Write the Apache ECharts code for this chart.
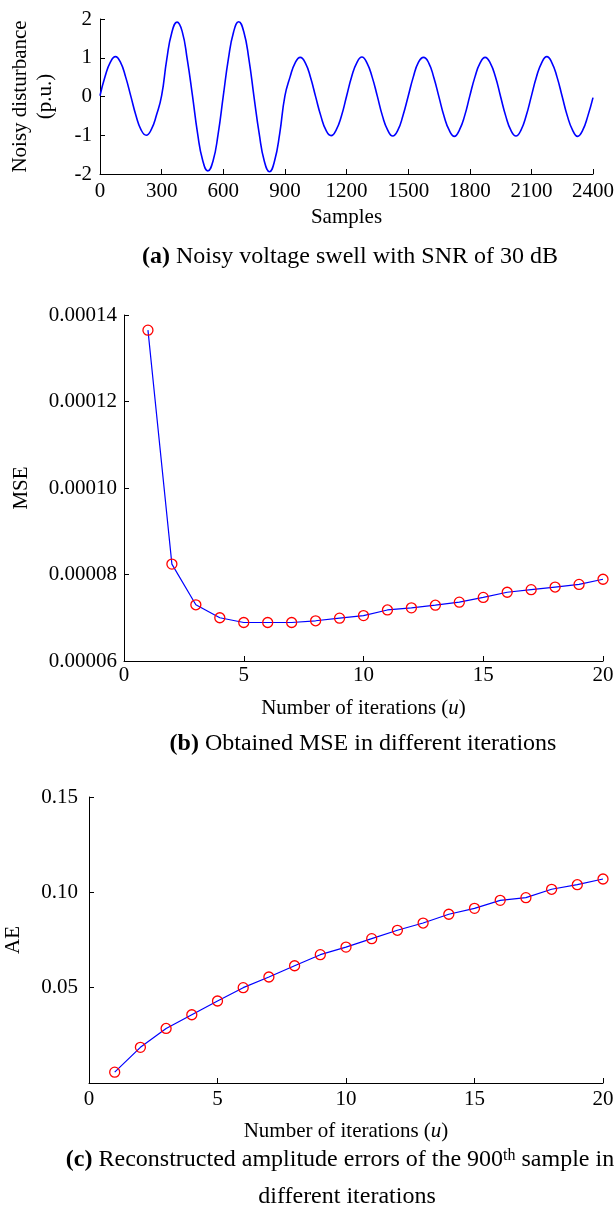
<!DOCTYPE html>
<html>
<head>
<meta charset="utf-8">
<script src="https://cdn.jsdelivr.net/npm/echarts@6/dist/echarts.min.js"></script>
<style>
html,body{margin:0;padding:0;background:#fff;}
#c{width:616px;height:1207px;}
</style>
</head>
<body>
<div id="c"></div>
<script>
// ---------- Data ----------
// (a) noisy voltage swell, values read every 25 samples
const sampleIndex = [];
for (let i = 0; i <= 96; i++) sampleIndex.push(i * 25);
const disturbance = [
  0.02, 0.52, 0.88, 1.03, 0.88, 0.50, 0.01, -0.49, -0.86, -1.00, -0.85, -0.48,
  0.02, 0.96, 1.66, 1.92, 1.68, 0.95, 0.03, -0.95, -1.65, -1.92, -1.67, -0.97,
  0.01, 0.97, 1.66, 1.93, 1.67, 0.96, -0.02, -0.96, -1.67, -1.94, -1.66, -0.95,
  0.01, 0.50, 0.87, 1.01, 0.86, 0.49, -0.01, -0.50, -0.87, -1.01, -0.86, -0.51,
  0.00, 0.51, 0.87, 1.02, 0.86, 0.50, 0.01, -0.50, -0.86, -1.02, -0.87, -0.49,
  0.00, 0.50, 0.88, 1.01, 0.87, 0.49, -0.01, -0.51, -0.87, -1.03, -0.86, -0.50,
  0.01, 0.50, 0.86, 1.01, 0.86, 0.51, 0.00, -0.50, -0.87, -1.02, -0.86, -0.49,
  0.01, 0.51, 0.87, 1.03, 0.87, 0.50, 0.00, -0.50, -0.86, -1.03, -0.87, -0.50,
  -0.03
];
const samplesTicks = [0, 300, 600, 900, 1200, 1500, 1800, 2100, 2400];

// (b) MSE per iteration
const iterations = [1,2,3,4,5,6,7,8,9,10,11,12,13,14,15,16,17,18,19,20];
const mse = [
  0.0001365, 0.0000824, 0.0000730, 0.0000700, 0.0000689, 0.0000689, 0.0000689,
  0.0000693, 0.0000699, 0.0000705, 0.0000718, 0.0000723, 0.0000729, 0.0000736,
  0.0000747, 0.0000759, 0.0000765, 0.0000771, 0.0000777, 0.0000789
];

// (c) amplitude error of 900th sample per iteration
const ae = [
  0.0057, 0.0187, 0.0286, 0.0358, 0.0430, 0.0500, 0.0556, 0.0615, 0.0673, 0.0713,
  0.0757, 0.0801, 0.0839, 0.0885, 0.0916, 0.0958, 0.0972, 0.1016, 0.1040, 0.1070
];

// ---------- Chart ----------
const FONT = '"Liberation Serif", "Times New Roman", serif';
const BLUE = '#0000ff';
const RED = '#ff0000';

function xAxisBase(gridIndex, min, max, interval, name, nameGap, labelMargin) {
  return {
    type: 'value', gridIndex, min, max, interval,
    name, nameLocation: 'middle', nameGap,
    nameTextStyle: { fontFamily: FONT, fontSize: 21, color: '#000',
      rich: { i: { fontFamily: FONT, fontSize: 21, fontStyle: 'italic', color: '#000' } } },
    axisLine: { show: true, onZero: false, lineStyle: { color: '#000', width: 1 } },
    axisTick: { show: true, inside: true, length: 5, lineStyle: { color: '#000' } },
    axisLabel: { fontFamily: FONT, fontSize: 21, color: '#000', margin: labelMargin, formatter: v => String(v) },
    splitLine: { show: false }
  };
}
function yAxisBase(gridIndex, min, max, interval, name, nameGap, labelMargin, fmt) {
  return {
    type: 'value', gridIndex, min, max, interval,
    name, nameLocation: 'middle', nameGap,
    nameTextStyle: { fontFamily: FONT, fontSize: 21, color: '#000', lineHeight: 25 },
    axisLine: { show: true, onZero: false, lineStyle: { color: '#000', width: 1 } },
    axisTick: { show: true, inside: true, length: 5, lineStyle: { color: '#000' } },
    axisLabel: { fontFamily: FONT, fontSize: 21, color: '#000', margin: labelMargin, formatter: fmt },
    splitLine: { show: false }
  };
}

const chart = echarts.init(document.getElementById('c'), null, { renderer: 'canvas' });

const capRich = {
  b: { fontFamily: FONT, fontSize: 24, fontWeight: 'bold', fill: '#000' },
  sup: { fontFamily: FONT, fontSize: 16, fill: '#000', verticalAlign: 'top' }
};

chart.setOption({
  animation: false,
  backgroundColor: '#fff',
  grid: [
    { left: 100, top: 19, width: 493, height: 155, outerBoundsMode: 'none', containLabel: false },
    { left: 124, top: 315, width: 479, height: 346, outerBoundsMode: 'none', containLabel: false },
    { left: 89, top: 797, width: 514, height: 286, outerBoundsMode: 'none', containLabel: false }
  ],
  xAxis: [
    xAxisBase(0, samplesTicks[0], samplesTicks[samplesTicks.length - 1], 300, 'Samples', 33, 7),
    xAxisBase(1, 0, 20, 5, 'Number of iterations ({i|u})', 37, 4),
    xAxisBase(2, 0, 20, 5, 'Number of iterations ({i|u})', 38, 6)
  ],
  yAxis: [
    yAxisBase(0, -2, 2, 1, 'Noisy disturbance\n(p.u.)', 42, 8, v => String(v)),
    yAxisBase(1, 0.00006, 0.00014, 0.00002, 'MSE', 90, 7, v => v.toFixed(5)),
    yAxisBase(2, 0, 0.15, 0.05, 'AE', 63, 11, v => (Math.abs(v) < 1e-9 ? '' : v.toFixed(2)))
  ],
  series: [
    {
      type: 'line', xAxisIndex: 0, yAxisIndex: 0,
      data: sampleIndex.map((x, i) => [x, disturbance[i]]),
      showSymbol: false, smooth: 0.5,
      lineStyle: { color: BLUE, width: 1.6 }
    },
    {
      type: 'line', xAxisIndex: 1, yAxisIndex: 1,
      data: iterations.map((x, i) => [x, mse[i]]),
      symbol: 'circle', symbolSize: 10,
      itemStyle: { color: 'rgba(0,0,0,0)', borderColor: RED, borderWidth: 1.3 },
      lineStyle: { color: BLUE, width: 1.2 }
    },
    {
      type: 'line', xAxisIndex: 2, yAxisIndex: 2,
      data: iterations.map((x, i) => [x, ae[i]]),
      symbol: 'circle', symbolSize: 10,
      itemStyle: { color: 'rgba(0,0,0,0)', borderColor: RED, borderWidth: 1.3 },
      lineStyle: { color: BLUE, width: 1.2 }
    }
  ],
  graphic: [
    { type: 'text', x: 350, y: 257, style: {
      text: '{b|(a)} Noisy voltage swell with SNR of 30 dB',
      font: '24px ' + FONT, fill: '#000', align: 'center', verticalAlign: 'middle', rich: capRich } },
    { type: 'text', x: 363, y: 744, style: {
      text: '{b|(b)} Obtained MSE in different iterations',
      font: '24px ' + FONT, fill: '#000', align: 'center', verticalAlign: 'middle', rich: capRich } },
    { type: 'text', x: 340, y: 1160, style: {
      text: '{b|(c)} Reconstructed amplitude errors of the 900{sup|th} sample in',
      font: '24px ' + FONT, fill: '#000', align: 'center', verticalAlign: 'middle', rich: capRich } },
    { type: 'text', x: 347, y: 1197, style: {
      text: 'different iterations',
      font: '24px ' + FONT, fill: '#000', align: 'center', verticalAlign: 'middle' } }
  ]
});
</script>
</body>
</html>
